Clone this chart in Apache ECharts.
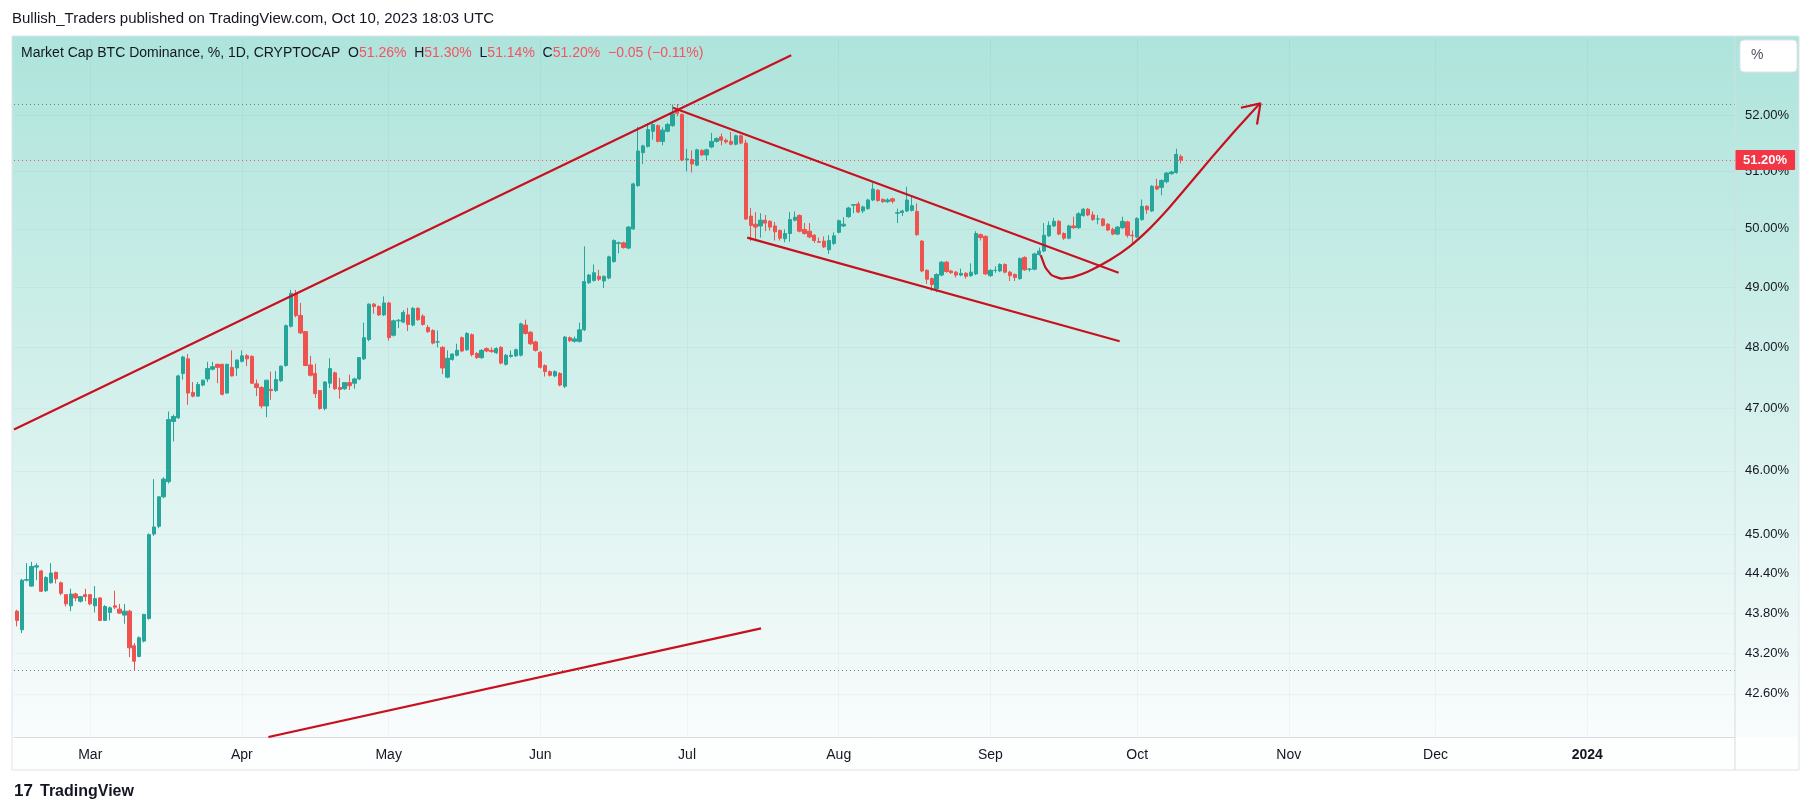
<!DOCTYPE html>
<html>
<head>
<meta charset="utf-8">
<script src="https://cdn.jsdelivr.net/npm/echarts@6/dist/echarts.min.js"></script>
<style>
  html, body { margin: 0; padding: 0; background: #fff; }
  #main { width: 1814px; height: 807px; }
</style>
</head>
<body>
<div id="main"></div>
<script>
// daily candles, first one is 2023-02-13, values as [open, high, low, close] in %
var firstDay = Date.UTC(2023, 1, 13);
var ohlc = [
  [43.5,43.85,43.45,43.8],[43.83,43.85,43.6,43.69],[43.55,44.32,43.5,44.3],[44.3,44.56,44.28,44.31],
  [44.21,44.58,44.2,44.51],[44.5,44.56,44.3,44.52],[44.44,44.46,44.12,44.13],[44.14,44.36,44.12,44.34],
  [44.26,44.56,44.25,44.41],[44.42,44.43,44.25,44.32],[44.26,44.28,44.07,44.1],[44.08,44.09,43.9,43.94],
  [43.91,44.17,43.83,44.09],[44.09,44.11,43.98,44.03],[43.98,44.06,43.96,44.05],[44.08,44.17,43.98,44.05],
  [44.08,44.09,43.92,43.94],[43.91,44.21,43.81,44.02],[44.03,44.04,43.68,43.69],[43.69,43.92,43.68,43.9],
  [43.81,43.9,43.69,43.88],[43.91,44.14,43.86,43.89],[43.86,43.94,43.79,43.8],[43.77,43.94,43.64,43.83],
  [43.83,43.85,43.14,43.28],[43.31,43.35,42.94,43.08],[43.15,43.45,43.14,43.43],[43.38,43.79,43.36,43.78],
  [43.72,45.02,43.7,45.0],[45.01,45.87,44.98,45.12],[45.13,45.6,45.1,45.59],[45.59,45.9,45.57,45.87],
  [45.83,46.95,45.8,46.82],[46.79,46.9,46.47,46.87],[46.85,47.55,46.83,47.53],[47.57,47.86,47.47,47.84],
  [47.81,47.89,47.06,47.25],[47.26,47.43,47.18,47.2],[47.2,47.43,47.19,47.39],[47.38,47.47,47.36,47.46],
  [47.48,47.76,47.43,47.65],[47.64,47.76,47.62,47.68],[47.72,47.73,47.41,47.67],[47.72,47.73,47.21,47.23],
  [47.25,47.73,47.24,47.72],[47.67,47.95,47.52,47.53],[47.66,47.8,47.53,47.79],
  [47.77,47.95,47.75,47.86],[47.86,47.89,47.69,47.81],[47.85,47.87,47.4,47.41],[47.4,47.47,47.2,47.34],
  [47.34,47.36,47.0,47.04],[47.04,47.46,46.86,47.46],[47.31,47.6,47.14,47.29],[47.29,47.61,47.27,47.47],
  [47.45,47.7,47.43,47.69],[47.7,48.38,47.68,48.36],[48.35,48.96,48.33,48.9],[48.9,48.96,48.5,48.53],
  [48.53,48.74,48.22,48.24],[48.26,48.27,47.69,47.7],[47.71,47.86,47.52,47.54],[47.57,47.73,47.17,47.24],
  [47.29,47.3,46.98,47.0],[47.0,47.44,46.97,47.43],[47.41,47.82,47.33,47.65],[47.58,47.6,47.3,47.32],
  [47.34,47.5,47.16,47.31],[47.32,47.43,47.3,47.42],[47.42,47.55,47.3,47.37],[47.41,47.5,47.32,47.48],
  [47.48,47.84,47.46,47.83],[47.81,48.41,47.79,48.16],[48.13,48.73,48.1,48.72],[48.72,48.74,48.56,48.68],
  [48.68,48.7,48.52,48.54],[48.54,48.85,48.52,48.74],
  [48.74,48.76,48.11,48.16],[48.2,48.46,48.18,48.44],[48.44,48.47,48.32,48.45],[48.42,48.62,48.4,48.58],
  [48.54,48.66,48.27,48.38],[48.37,48.67,48.35,48.65],[48.65,48.67,48.44,48.46],[48.52,48.55,48.36,48.38],
  [48.33,48.37,48.24,48.26],[48.28,48.3,48.05,48.07],[48.09,48.28,48.0,48.09],[48.0,48.02,47.56,47.66],
  [47.51,47.95,47.49,47.82],[47.8,47.9,47.78,47.89],[47.87,48.06,47.85,47.95],[48.16,48.18,47.92,47.94],
  [47.96,48.25,47.94,48.23],[48.21,48.23,47.85,47.88],[47.9,47.92,47.81,47.83],[47.83,47.97,47.81,47.95],
  [47.98,48.0,47.92,47.94],[47.95,48.0,47.91,47.93],[47.91,48.0,47.89,47.98],[48.0,48.02,47.72,47.74],
  [47.72,47.89,47.7,47.87],[47.85,47.95,47.83,47.87],[47.86,47.98,47.84,47.96],[47.87,48.41,47.85,48.39],
  [48.37,48.46,48.21,48.23],[48.25,48.27,48.04,48.06],[48.09,48.11,47.93,47.95],
  [47.92,47.94,47.65,47.67],[47.7,47.72,47.52,47.6],[47.6,47.62,47.52,47.54],[47.53,47.62,47.51,47.6],
  [47.57,47.59,47.36,47.38],[47.36,48.19,47.33,48.17],[48.16,48.18,48.09,48.11],[48.1,48.18,48.08,48.14],
  [48.1,48.41,48.08,48.29],[48.29,49.7,48.27,49.1],[49.08,49.23,49.06,49.21],[49.12,49.39,49.1,49.25],
  [49.19,49.3,49.11,49.14],[49.11,49.2,48.99,49.19],[49.16,49.54,49.14,49.52],[49.44,49.82,49.42,49.8],
  [49.75,49.78,49.58,49.76],[49.76,49.78,49.66,49.68],[49.67,50.05,49.65,50.03],[50.0,50.8,49.98,50.78],
  [50.75,51.79,50.73,51.36],[51.33,51.47,51.13,51.45],[51.44,51.85,51.42,51.74],[51.71,51.85,51.56,51.83],
  [51.81,51.83,51.51,51.53],[51.53,51.78,51.46,51.73],[51.71,51.86,51.69,51.83],[51.81,52.19,51.79,52.02],
  [52.08,52.2,51.98,52.03],[52.01,52.03,51.18,51.2],
  [51.2,51.4,51.0,51.22],[51.21,51.37,50.98,51.13],[51.11,51.4,51.09,51.38],[51.37,51.39,51.27,51.29],
  [51.29,51.4,51.19,51.38],[51.43,51.68,51.41,51.53],[51.53,51.6,51.51,51.58],[51.61,51.67,51.46,51.55],
  [51.55,51.58,51.49,51.52],[51.53,51.7,51.46,51.48],[51.48,51.65,51.46,51.63],[51.63,51.65,51.48,51.5],
  [51.5,51.56,50.15,50.17],[50.22,50.36,49.79,50.06],[50.08,50.29,49.79,50.03],[50.05,50.27,49.85,50.15],
  [50.15,50.24,49.96,50.1],[50.13,50.15,49.97,50.03],[50.05,50.12,49.8,49.95],[49.97,49.99,49.8,49.84],
  [49.83,49.99,49.77,49.92],[49.92,50.29,49.78,50.16],[50.15,50.3,50.13,50.2],[50.23,50.25,49.94,49.96],
  [49.99,50.1,49.9,49.92],[49.96,50.1,49.84,49.86],[49.89,49.91,49.76,49.8],[49.78,49.85,49.76,49.77],
  [49.79,49.87,49.67,49.69],[49.64,49.89,49.57,49.8],[49.75,49.94,49.72,49.88],
  [49.94,50.16,49.92,50.14],[50.05,50.2,50.03,50.08],[50.21,50.38,50.19,50.36],[50.41,50.43,50.27,50.42],
  [50.43,50.47,50.27,50.29],[50.31,50.4,50.27,50.38],[50.35,50.52,50.33,50.5],[50.5,50.8,50.48,50.69],
  [50.67,50.69,50.47,50.49],[50.51,50.53,50.45,50.47],[50.47,50.53,50.45,50.5],[50.52,50.54,50.44,50.48],
  [50.27,50.35,50.1,50.28],[50.28,50.33,50.22,50.31],[50.31,50.73,50.29,50.5],[50.32,50.56,50.3,50.4],
  [50.3,50.44,49.88,49.9],[49.79,49.81,49.26,49.28],[49.29,49.31,49.06,49.14],[49.15,49.17,48.94,49.05],
  [48.98,49.24,48.92,49.22],[49.21,49.45,49.19,49.43],[49.43,49.45,49.25,49.27],[49.28,49.3,49.23,49.25],
  [49.26,49.28,49.17,49.21],[49.21,49.32,49.19,49.24],[49.24,49.26,49.15,49.19],[49.2,49.41,49.18,49.26],
  [49.23,49.96,49.21,49.92],[49.9,49.92,49.8,49.85],[49.87,49.89,49.21,49.23],
  [49.2,49.31,49.18,49.29],[49.29,49.36,49.25,49.29],[49.28,49.41,49.26,49.39],[49.39,49.41,49.24,49.26],
  [49.26,49.28,49.11,49.2],[49.22,49.24,49.11,49.17],[49.15,49.51,49.13,49.49],[49.51,49.53,49.28,49.3],
  [49.31,49.33,49.27,49.31],[49.31,49.59,49.29,49.57],[49.56,49.68,49.54,49.62],[49.62,50.1,49.6,49.89],
  [49.88,50.13,49.86,50.06],[50.05,50.19,50.03,50.13],[50.13,50.15,49.89,49.91],[49.92,49.94,49.81,49.84],
  [49.84,50.07,49.82,50.05],[50.05,50.21,50.0,50.02],[50.02,50.29,50.0,50.26],[50.23,50.36,50.21,50.34],
  [50.34,50.36,50.22,50.24],[50.24,50.3,50.14,50.16],[50.17,50.24,50.08,50.17],[50.17,50.19,50.04,50.06],
  [50.08,50.1,49.96,49.98],[49.99,50.02,49.89,49.91],[49.91,50.05,49.89,50.03],[50.02,50.21,50.0,50.13],
  [50.12,50.14,49.85,49.89],[49.89,49.97,49.75,49.88],
  [49.86,50.2,49.84,50.18],[50.16,50.51,50.14,50.39],[50.39,50.41,50.26,50.33],[50.31,50.76,50.29,50.74],
  [50.74,50.87,50.67,50.69],[50.72,50.86,50.58,50.84],[50.82,50.99,50.79,50.97],[50.96,51.01,50.94,50.99],
  [50.98,51.4,50.96,51.3],[51.26,51.3,51.14,51.2]
];

var yTicks = [52, 51, 50, 49, 48, 47, 46, 45, 44.4, 43.8, 43.2, 42.6];
var monthTicks = [
  ['2023-03-01', 'Mar'], ['2023-04-01', 'Apr'], ['2023-05-01', 'May'], ['2023-06-01', 'Jun'],
  ['2023-07-01', 'Jul'], ['2023-08-01', 'Aug'], ['2023-09-01', 'Sep'], ['2023-10-01', 'Oct'],
  ['2023-11-01', 'Nov'], ['2023-12-01', 'Dec'], ['2024-01-01', '2024']
];
var lastPrice = 51.20;

// hand drawn lines of the author: [time, value]
var riseUpper = [['2023-02-13T10:00Z', 46.66], ['2023-07-22T07:00Z', 53.08]];
var riseLower = [['2023-04-06T10:00Z', 41.97], ['2023-07-16T03:00Z', 43.57]];
var wedgeUpper = [['2023-06-28T03:00Z', 52.13], ['2023-09-27T05:00Z', 49.25]];
var wedgeLower = [['2023-07-13T07:00Z', 49.85], ['2023-09-27T10:00Z', 48.1]];
var curve = [
  ['2023-09-11T07:00Z', 49.55], ['2023-09-12T06:00Z', 49.34], ['2023-09-13T12:00Z', 49.21],
  ['2023-09-15T14:00Z', 49.15], ['2023-09-18T00:00Z', 49.18], ['2023-09-21T00:00Z', 49.27],
  ['2023-09-25T12:00Z', 49.47], ['2023-09-29T12:00Z', 49.7], ['2023-10-03T12:00Z', 50.0],
  ['2023-10-07T12:00Z', 50.36], ['2023-10-11T12:00Z', 50.76], ['2023-10-16T00:00Z', 51.22],
  ['2023-10-21T00:00Z', 51.72], ['2023-10-26T00:00Z', 52.2]
];
var arrowHead = [['2023-10-22T05:00Z', 52.13], ['2023-10-26T05:00Z', 52.21], ['2023-10-25T12:00Z', 51.83]];

var ln = Math.log;
function pts(list) {
  return list.map(function (p) { return [Date.parse(p[0]), ln(p[1])]; });
}

var candles = ohlc.map(function (d, i) {
  return [firstDay + i * 86400000, ln(d[0]), ln(d[3]), ln(d[2]), ln(d[1])];
});
var maxHigh = Math.max.apply(null, ohlc.map(function (d) { return d[1]; }));
var minLow = Math.min.apply(null, ohlc.map(function (d) { return d[2]; }));
var monthValues = monthTicks.map(function (m) { return Date.parse(m[0] + 'T00:00:00Z'); });
var monthNames = {};
monthTicks.forEach(function (m, i) { monthNames[monthValues[i]] = m[1]; });

var red = '#c8101f';
function drawLine(list, smooth) {
  return {
    type: 'line', data: pts(list), showSymbol: false, smooth: smooth || false,
    lineStyle: { color: red, width: 2.2 }, silent: true, z: 5
  };
}

var fontUi = 'Liberation Sans, Arial, sans-serif';
var myChart = echarts.init(document.getElementById('main'));

var option = {
  animation: false,
  backgroundColor: '#ffffff',
  textStyle: { fontFamily: fontUi },
  grid: { left: 14, right: 79, top: 39, bottom: 70 },
  graphic: [
    { type: 'rect', z: -20, silent: true, shape: { x: 12, y: 36, width: 1787, height: 701 },
      style: { fill: new echarts.graphic.LinearGradient(0, 0, 0, 1, [
        { offset: 0, color: '#ade4db' }, { offset: 1, color: '#f9fcfc' }]) } },
    { type: 'rect', z: -20, silent: true, shape: { x: 12, y: 737, width: 1787, height: 33 },
      style: { fill: '#fdfefe' } },
    { type: 'rect', z: 30, silent: true, shape: { x: 12, y: 36, width: 1787, height: 734 },
      style: { fill: 'none', stroke: '#e0e3eb', lineWidth: 1 } },
    { type: 'line', z: 30, silent: true, shape: { x1: 1735, y1: 36, x2: 1735, y2: 770 },
      style: { stroke: '#d3dde0', lineWidth: 1 } },
    { type: 'text', left: 12, top: 11, style: {
      text: 'Bullish_Traders published on TradingView.com, Oct 10, 2023 18:03 UTC',
      fill: '#131722', font: '15px ' + fontUi } },
    { type: 'text', left: 21, top: 46, z: 40, style: {
      text: 'Market Cap BTC Dominance, %, 1D, CRYPTOCAP  {k|O}{v|51.26%}  {k|H}{v|51.30%}  {k|L}{v|51.14%}  {k|C}{v|51.20%}  {v|\u22120.05 (\u22120.11%)}',
      fill: '#131722', font: '14px ' + fontUi,
      rich: { k: { fill: '#131722', font: '14px ' + fontUi }, v: { fill: '#f7525f', font: '14px ' + fontUi } } } },
    { type: 'rect', z: 40, silent: true, shape: { x: 1740, y: 40, width: 57, height: 32, r: 4 },
      style: { fill: '#ffffff', stroke: '#e0e3eb' } },
    { type: 'text', z: 41, left: 1751, top: 48, style: { text: '%', fill: '#50535e', font: '14px ' + fontUi } },
    { type: 'text', left: 40, top: 784, style: { text: 'TradingView', fill: '#131722', font: '600 16px ' + fontUi } },
    { type: 'text', left: 14, top: 783, style: { text: '17', fill: '#131722', font: 'bold 17px ' + fontUi } }
  ],
  xAxis: {
    type: 'value',
    min: Date.parse('2023-02-13T10:00:00Z'),
    max: Date.parse('2024-01-31T05:00:00Z'),
    axisLine: { lineStyle: { color: '#d6dde0' } },
    axisTick: { show: false, customValues: monthValues },
    splitLine: { show: true, lineStyle: { color: 'rgba(42,46,57,0.04)' } },
    axisLabel: {
      customValues: monthValues,
      color: '#131722', fontSize: 14, margin: 11,
      formatter: function (v) {
        var n = monthNames[v] || '';
        return n === '2024' ? '{b|2024}' : n;
      },
      rich: { b: { fontWeight: 'bold', fontSize: 14, color: '#131722' } }
    }
  },
  yAxis: {
    type: 'value',
    position: 'right',
    min: ln(41.97),
    max: ln(53.38),
    axisLine: { show: false },
    axisTick: { show: false, customValues: yTicks.map(ln) },
    splitLine: { show: true, lineStyle: { color: 'rgba(42,46,57,0.04)' } },
    axisLabel: {
      customValues: yTicks.map(ln),
      color: '#131722', fontSize: 13, margin: 10,
      formatter: function (v) { return Math.exp(v).toFixed(2) + '%'; }
    }
  },
  series: [
    {
      type: 'candlestick',
      data: candles,
      barWidth: 3.8,
      itemStyle: {
        color: '#26a69a', color0: '#ef5350',
        borderColor: '#26a69a', borderColor0: '#ef5350', borderWidth: 1
      },
      markLine: {
        silent: true, symbol: 'none', animation: false, precision: 10,
        data: [
          { yAxis: ln(maxHigh), lineStyle: { color: '#787b86', type: [1, 3], width: 1 }, label: { show: false } },
          { yAxis: ln(minLow), lineStyle: { color: '#787b86', type: [1, 3], width: 1 }, label: { show: false } },
          { yAxis: ln(lastPrice), lineStyle: { color: '#f7525f', type: [1, 3], width: 1 },
            label: { show: true, position: 'end', distance: 0, formatter: lastPrice.toFixed(2) + '%',
              backgroundColor: '#f23645', color: '#fff', fontSize: 13, fontWeight: 'bold',
              padding: [4, 8, 3, 8], borderRadius: 1 } }
        ]
      }
    },
    drawLine(riseUpper),
    drawLine(riseLower),
    drawLine(wedgeUpper),
    drawLine(wedgeLower),
    drawLine(curve, 0.12),
    drawLine(arrowHead)
  ]
};

myChart.setOption(option);
</script>
</body>
</html>
